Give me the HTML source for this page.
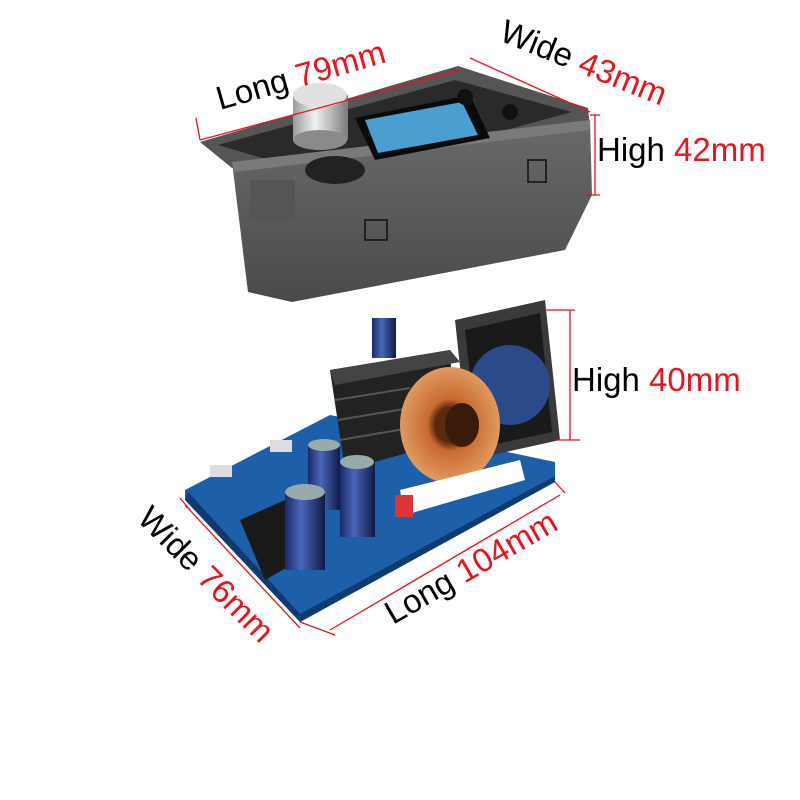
<!DOCTYPE html>
<html><head><meta charset="utf-8"><style>
html,body{margin:0;padding:0;background:#fff;width:800px;height:800px;overflow:hidden}
svg{display:block}
text{font-family:"Liberation Sans",sans-serif;font-size:33px}
.r{fill:#e8141c}
</style></head><body>
<svg width="800" height="800" viewBox="0 0 800 800" xmlns="http://www.w3.org/2000/svg">
<defs>
<linearGradient id="front" x1="0" y1="0" x2="0" y2="1"><stop offset="0" stop-color="#6a6a6a"/><stop offset="1" stop-color="#4a4a4a"/></linearGradient>
<linearGradient id="knob" x1="0" y1="0" x2="1" y2="0"><stop offset="0" stop-color="#9a9a9a"/><stop offset="0.4" stop-color="#f2f2f2"/><stop offset="1" stop-color="#7a7a7a"/></linearGradient>
<linearGradient id="cap" x1="0" y1="0" x2="1" y2="0"><stop offset="0" stop-color="#1a2a6a"/><stop offset="0.4" stop-color="#4a66b8"/><stop offset="1" stop-color="#101a45"/></linearGradient>
<radialGradient id="coil"><stop offset="0.3" stop-color="#5a2a10"/><stop offset="0.45" stop-color="#c86a30"/><stop offset="1" stop-color="#e09a60"/></radialGradient>
</defs>

<!-- top case -->
<polygon points="200,142 458,66 588,108 590,128 232,168" fill="#555"/>
<polygon points="218,145 455,80 572,112 330,178" fill="#2a2a2a"/>
<polygon points="232,162 590,120 592,195 565,250 292,302 248,292" fill="url(#front)"/>
<polygon points="232,162 590,120 590,130 234,172" fill="#7a7a7a"/>
<polygon points="355,118 470,95 490,138 375,160" fill="#0a0a0a"/>
<polygon points="365,120 462,102 478,135 378,153" fill="#4a9ed0"/>
<rect x="365" y="220" width="22" height="20" fill="none" stroke="#222" stroke-width="2"/>
<rect x="528" y="160" width="18" height="22" fill="none" stroke="#222" stroke-width="2"/>
<rect x="250" y="180" width="45" height="40" fill="#555"/>
<circle cx="465" cy="97" r="8" fill="#111"/><circle cx="510" cy="112" r="8" fill="#111"/>
<ellipse cx="335" cy="170" rx="30" ry="14" fill="#222"/>
<rect x="293" y="95" width="55" height="45" fill="url(#knob)"/>
<ellipse cx="320" cy="95" rx="27" ry="12" fill="#e0e0e0"/>
<ellipse cx="320" cy="140" rx="27" ry="10" fill="#8a8a8a"/>

<!-- top dimension lines -->
<g stroke="#e8141c" stroke-width="1.3" fill="none">
<line x1="200" y1="140" x2="460" y2="70"/>
<line x1="200" y1="140" x2="196" y2="118"/>
<line x1="470" y1="58" x2="590" y2="112"/>
<line x1="590" y1="115" x2="600" y2="115"/>
<line x1="595" y1="115" x2="595" y2="195"/>
<line x1="585" y1="195" x2="600" y2="195"/>
</g>
<text transform="translate(220,110) rotate(-16)">Long <tspan class="r">79mm</tspan></text>
<text transform="translate(498,40) rotate(22)">Wide <tspan class="r">43mm</tspan></text>
<text x="597" y="161">High <tspan class="r">42mm</tspan></text>

<!-- bottom board -->
<polygon points="185,490 330,415 555,462 555,482 300,622 185,500" fill="#1d5fa8"/>
<polygon points="185,500 300,622 300,614 188,492" fill="#0d3a70"/>
<polygon points="300,614 555,476 555,482 300,622" fill="#0d3a70"/>
<polygon points="240,520 285,500 300,560 265,580" fill="#1a1a1a"/>
<polygon points="330,370 450,350 455,440 345,470" fill="#222"/>
<polygon points="330,370 450,350 460,362 335,385" fill="#444"/>
<g stroke="#555" stroke-width="2"><line x1="335" y1="400" x2="410" y2="388"/><line x1="338" y1="420" x2="410" y2="408"/><line x1="340" y1="440" x2="410" y2="428"/></g>
<polygon points="455,320 545,300 560,440 470,460" fill="#3a3a3a"/>
<polygon points="465,330 540,313 552,432 478,448" fill="#1a1a1a"/>
<circle cx="510" cy="385" r="40" fill="#2a4a8a"/>
<ellipse cx="450" cy="425" rx="50" ry="58" fill="url(#coil)"/>
<ellipse cx="462" cy="425" rx="17" ry="22" fill="#3a1a08"/>
<polygon points="400,490 520,460 525,480 405,515" fill="#fff"/>
<rect x="372" y="318" width="24" height="40" fill="url(#cap)"/>
<g>
<rect x="308" y="445" width="32" height="65" fill="url(#cap)"/><ellipse cx="324" cy="445" rx="16" ry="6" fill="#9aa"/>
<rect x="340" y="462" width="35" height="75" fill="url(#cap)"/><ellipse cx="357" cy="462" rx="17" ry="7" fill="#9aa"/>
<rect x="285" y="490" width="40" height="80" fill="url(#cap)"/><ellipse cx="305" cy="492" rx="20" ry="8" fill="#9aa"/>
</g>
<rect x="395" y="495" width="18" height="22" fill="#d33"/>
<rect x="270" y="440" width="22" height="12" fill="#ddd"/>
<rect x="210" y="465" width="22" height="12" fill="#ddd"/>

<!-- bottom dimension lines -->
<g stroke="#e8141c" stroke-width="1.3" fill="none">
<line x1="545" y1="310" x2="575" y2="310"/>
<line x1="570" y1="310" x2="570" y2="440"/>
<line x1="555" y1="440" x2="580" y2="440"/>
<line x1="330" y1="630" x2="560" y2="495"/>
<line x1="300" y1="622" x2="335" y2="635"/>
<line x1="555" y1="482" x2="565" y2="493"/>
<line x1="185" y1="505" x2="300" y2="628"/>
<line x1="180" y1="498" x2="190" y2="510"/>
</g>
<text x="572" y="391">High <tspan class="r">40mm</tspan></text>
<text transform="translate(393,625) rotate(-30)">Long <tspan class="r">104mm</tspan></text>
<text transform="translate(136,520) rotate(45)">Wide <tspan class="r">76mm</tspan></text>
</svg>
</body></html>
